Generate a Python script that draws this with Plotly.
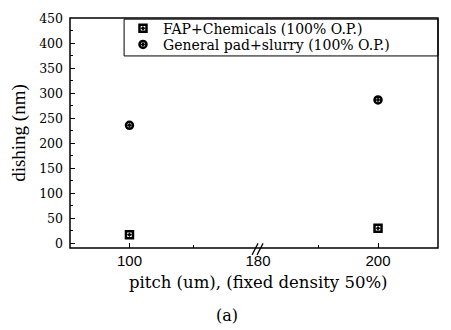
import plotly.graph_objects as go

pitch = [100, 200]
fap = [17, 30]
general = [236, 287]
names = ["FAP+Chemicals (100% O.P.)", "General pad+slurry (100% O.P.)"]
y_ticks = [0, 50, 100, 150, 200, 250, 300, 350, 400, 450]
x_left_ticks = [100]
x_right_ticks = [180, 200]

split = 0.511
serif = "Liberation Serif"
wide_serif = "DejaVu Serif"

fig = go.Figure()
# broken x axis: values below 180 on x, values from 180 on x2
for ax, sel, show in [("x", lambda v: v < 180, True), ("x2", lambda v: v >= 180, False)]:
    idx = [i for i, v in enumerate(pitch) if sel(v)]
    xs = [pitch[i] for i in idx]
    fig.add_trace(go.Scatter(x=xs, y=[fap[i] for i in idx], mode="markers", xaxis=ax, yaxis="y",
                             name=names[0], showlegend=show, legend="legend",
                             marker=dict(symbol="square-open-dot", size=7, color="black",
                                         line=dict(width=2.5, color="black"))))
    fig.add_trace(go.Scatter(x=xs, y=[general[i] for i in idx], mode="markers", xaxis=ax, yaxis="y",
                             name=names[1], showlegend=show, legend="legend2",
                             marker=dict(symbol="circle-open-dot", size=7, color="black",
                                         line=dict(width=2.5, color="black"))))

xfont = dict(family="Liberation Sans", size=15, color="black")
legfont = dict(family=wide_serif, size=14, color="black")
fig.update_layout(
    width=451, height=330,
    margin=dict(l=70, r=13, t=11, b=82),
    paper_bgcolor="white", plot_bgcolor="white",
    showlegend=True,
    legend=dict(x=0.144, y=(248 - 22) / 237, xanchor="left", yanchor="middle",
                bgcolor="rgba(0,0,0,0)", borderwidth=0, font=legfont, itemwidth=30),
    legend2=dict(x=0.144, y=(248 - 38.7) / 237, xanchor="left", yanchor="middle",
                 bgcolor="rgba(0,0,0,0)", borderwidth=0, font=legfont, itemwidth=30),
    xaxis=dict(domain=[0, split], range=[63, 180], tickvals=x_left_ticks,
               ticks="inside", ticklen=5, tickcolor="black", showgrid=False, zeroline=False,
               showline=False, anchor="y", ticklabelstandoff=2,
               minor=dict(tickvals=[140], ticks="inside", ticklen=3, tickcolor="black", showgrid=False),
               tickfont=xfont),
    xaxis2=dict(domain=[split, 1], range=[180, 210], tickvals=x_right_ticks,
                ticks="inside", ticklen=5, tickcolor="black", showgrid=False, zeroline=False,
                showline=False, anchor="y", ticklabelstandoff=2,
                minor=dict(tickvals=[190], ticks="inside", ticklen=3, tickcolor="black", showgrid=False),
                tickfont=xfont),
    yaxis=dict(range=[-9.7, 451], tickvals=y_ticks, ticks="inside", ticklen=5, tickcolor="black",
               showgrid=False, zeroline=False, showline=False, ticklabelstandoff=6,
               minor=dict(ticks="inside", ticklen=3, tickcolor="black", dtick=25, showgrid=False),
               tickfont=dict(family=wide_serif, size=12.5, color="black")),
)

# frame
fig.add_shape(type="rect", xref="paper", yref="paper", x0=0, x1=1, y0=0, y1=1,
              line=dict(color="black", width=1.5))
# legend box
fig.add_shape(type="rect", xref="paper", yref="paper", x0=0.147, x1=1, y0=0.835, y1=0.995,
              line=dict(color="black", width=1))
# axis break marks
for dx in [-3, 2]:
    fig.add_shape(type="line", xref="paper", yref="paper",
                  x0=split + (dx - 3) / 368, x1=split + (dx + 3) / 368,
                  y0=-0.03, y1=0.02, line=dict(color="black", width=1.2))

fig.add_annotation(text="pitch (um), (fixed density 50%)", xref="paper", yref="paper",
                   x=0.511, y=-0.148, xanchor="center", yanchor="middle", showarrow=False,
                   font=dict(family=wide_serif, size=16.5, color="black"))
fig.add_annotation(text="dishing (nm)", xref="paper", yref="paper", textangle=-90,
                   x=-0.139, y=0.5, xanchor="center", yanchor="middle", showarrow=False,
                   font=dict(family=serif, size=19, color="black"))
fig.add_annotation(text="(a)", xref="paper", yref="paper",
                   x=(227 - 70) / 368, y=-(318 - 248) / 237, xanchor="center", yanchor="middle",
                   showarrow=False, font=dict(family=wide_serif, size=16, color="black"))

fig.write_html("out.html")
